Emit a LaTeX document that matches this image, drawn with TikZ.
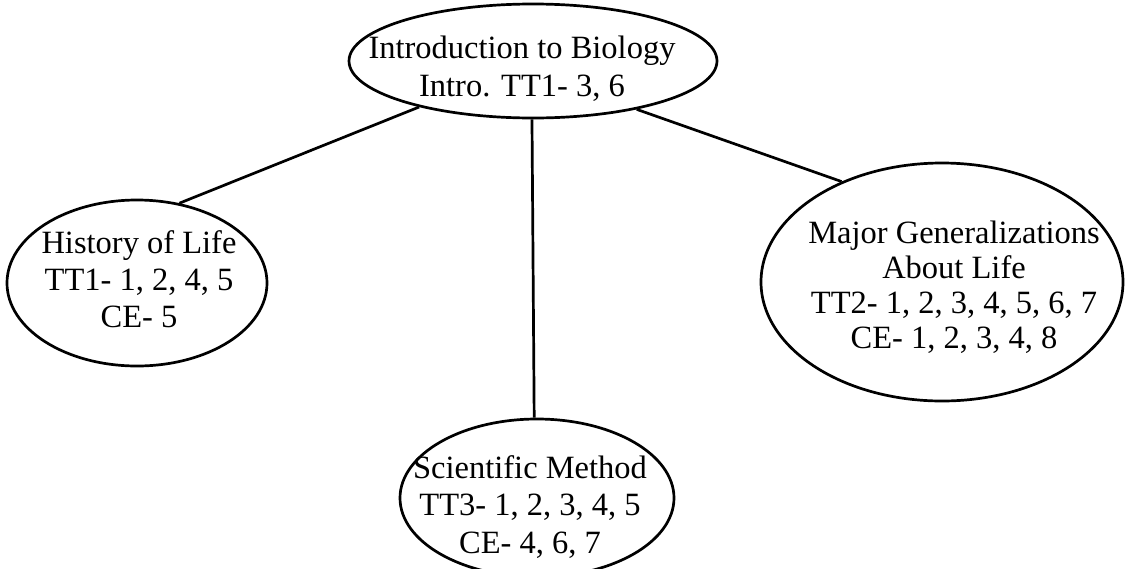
\documentclass[tikz,border=0pt]{standalone}
\usepackage{fontspec}
\setmainfont{Liberation Serif}
\usetikzlibrary{shapes.geometric}
\begin{document}
\begin{tikzpicture}[x=1pt,y=-1pt,
  bubble/.style={ellipse, draw, line width=2.7pt, inner sep=0pt},
  txt/.style={align=center, inner sep=0pt, font=\fontsize{32.5}{37}\selectfont},
  link/.style={line width=2.7pt}]
\useasboundingbox (0,0) rectangle (1125,568);
% ellipses
\node[bubble, minimum width=368pt, minimum height=114pt] (top) at (533,61) {};
\node[bubble, minimum width=260pt, minimum height=166pt] (hist) at (137,283) {};
\node[bubble, minimum width=362pt, minimum height=238pt] (major) at (942,282) {};
\node[bubble, minimum width=274pt, minimum height=158pt] (sci) at (537,498) {};
% texts
\node[txt, font=\fontsize{32.5}{38}\selectfont] (topt) at (522,69.4) {\strut Introduction to Biology\\\strut Intro. TT1- 3, 6};
\node[txt] (histt) at (139,282.6) {\strut History of Life\\\strut TT1- 1, 2, 4, 5\\\strut CE- 5};
\node[txt, font=\fontsize{32.5}{35}\selectfont] (majort) at (954,288.5) {\strut Major Generalizations\\\strut About Life\\\strut TT2- 1, 2, 3, 4, 5, 6, 7\\\strut CE- 1, 2, 3, 4, 8};
\node[txt, font=\fontsize{32.5}{37.5}\selectfont] (scit) at (530,508) {\strut Scientific Method\\\strut TT3- 1, 2, 3, 4, 5\\\strut CE- 4, 6, 7};
% connectors
\draw[link] (top.202) -- (hist.62);
\draw[link] (top.-91.5) -- (sci.92.5);
\draw[link] (top.-25) -- (major.135.6);
\end{tikzpicture}
\end{document}
